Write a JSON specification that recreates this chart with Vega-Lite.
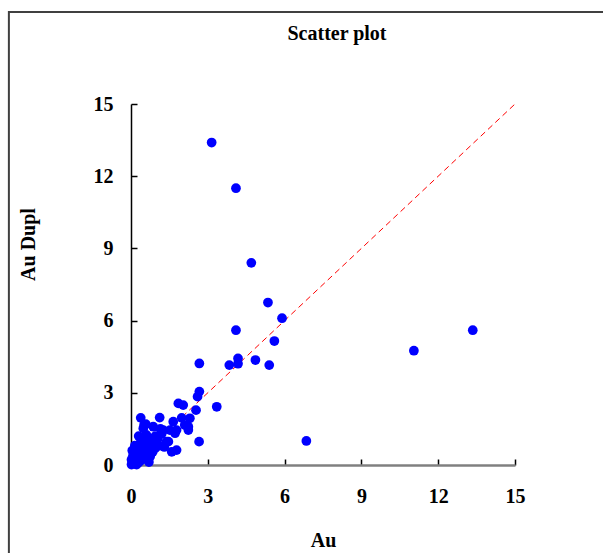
{
  "$schema": "https://vega.github.io/schema/vega-lite/v6.json",
  "width": 384,
  "height": 361,
  "autosize": {"type": "none"},
  "padding": {"left": 131, "top": 104, "right": 88, "bottom": 88},
  "background": "white",
  "title": {
    "text": "Scatter plot",
    "font": "Liberation Serif",
    "fontSize": 20,
    "fontWeight": "bold",
    "color": "black",
    "anchor": "middle",
    "frame": "group",
    "dx": 14,
    "offset": -33
  },
  "config": {
    "view": {"stroke": null},
    "axis": {
      "grid": false,
      "labelFont": "Liberation Serif",
      "labelFontSize": 20,
      "labelFontWeight": "bold",
      "labelColor": "black",
      "labelFlush": false,
      "titleFont": "Liberation Serif",
      "titleFontSize": 20,
      "titleFontWeight": "bold",
      "titleColor": "black",
      "tickColor": "black",
      "tickWidth": 1.5
    }
  },
  "datasets": {
    "pts": [
      {"Au": 3.15, "AuDupl": 13.4}, {"Au": 4.1, "AuDupl": 11.5}, {"Au": 4.7, "AuDupl": 8.4},
      {"Au": 5.35, "AuDupl": 6.75}, {"Au": 5.9, "AuDupl": 6.1}, {"Au": 4.1, "AuDupl": 5.6},
      {"Au": 5.6, "AuDupl": 5.15}, {"Au": 2.67, "AuDupl": 4.22}, {"Au": 3.84, "AuDupl": 4.15},
      {"Au": 4.18, "AuDupl": 4.43}, {"Au": 4.18, "AuDupl": 4.21}, {"Au": 4.86, "AuDupl": 4.36},
      {"Au": 5.4, "AuDupl": 4.15}, {"Au": 2.67, "AuDupl": 3.05}, {"Au": 2.6, "AuDupl": 2.84},
      {"Au": 11.05, "AuDupl": 4.75}, {"Au": 13.35, "AuDupl": 5.6}, {"Au": 6.85, "AuDupl": 1.0},
      {"Au": 3.35, "AuDupl": 2.42}, {"Au": 2.54, "AuDupl": 2.28}, {"Au": 1.85, "AuDupl": 2.56},
      {"Au": 2.04, "AuDupl": 2.49}, {"Au": 2.66, "AuDupl": 0.97},
      {"Au": 0.38, "AuDupl": 1.96}, {"Au": 1.12, "AuDupl": 1.97}, {"Au": 1.98, "AuDupl": 1.96},
      {"Au": 2.3, "AuDupl": 1.94}, {"Au": 2.24, "AuDupl": 1.45}, {"Au": 2.24, "AuDupl": 1.59},
      {"Au": 1.65, "AuDupl": 1.8}, {"Au": 1.78, "AuDupl": 1.45}, {"Au": 1.52, "AuDupl": 1.45},
      {"Au": 1.46, "AuDupl": 0.97}, {"Au": 1.78, "AuDupl": 0.62}, {"Au": 1.59, "AuDupl": 0.55},
      {"Au": 0.58, "AuDupl": 1.7}, {"Au": 0.87, "AuDupl": 1.59}, {"Au": 1.26, "AuDupl": 1.45},
      {"Au": 0.7, "AuDupl": 0.12}, {"Au": 0.48, "AuDupl": 1.52}, {"Au": 1.72, "AuDupl": 1.32},
      {"Au": 2.1, "AuDupl": 1.66}, {"Au": 1.0, "AuDupl": 0.9}, {"Au": 1.39, "AuDupl": 0.97},
      {"Au": 0.1, "AuDupl": 0.1}, {"Au": 0.15, "AuDupl": 0.05}, {"Au": 0.05, "AuDupl": 0.2},
      {"Au": 0.2, "AuDupl": 0.15}, {"Au": 0.12, "AuDupl": 0.3}, {"Au": 0.25, "AuDupl": 0.25},
      {"Au": 0.3, "AuDupl": 0.1}, {"Au": 0.08, "AuDupl": 0.4}, {"Au": 0.35, "AuDupl": 0.35},
      {"Au": 0.18, "AuDupl": 0.5}, {"Au": 0.4, "AuDupl": 0.2}, {"Au": 0.3, "AuDupl": 0.55},
      {"Au": 0.45, "AuDupl": 0.45}, {"Au": 0.5, "AuDupl": 0.6}, {"Au": 0.55, "AuDupl": 0.8},
      {"Au": 0.6, "AuDupl": 0.5}, {"Au": 0.4, "AuDupl": 0.7}, {"Au": 0.65, "AuDupl": 0.9},
      {"Au": 0.7, "AuDupl": 0.7}, {"Au": 0.5, "AuDupl": 1.0}, {"Au": 0.45, "AuDupl": 1.1},
      {"Au": 0.75, "AuDupl": 1.05}, {"Au": 0.8, "AuDupl": 0.85}, {"Au": 0.9, "AuDupl": 1.0},
      {"Au": 0.95, "AuDupl": 1.2}, {"Au": 1.05, "AuDupl": 1.1}, {"Au": 1.1, "AuDupl": 0.8},
      {"Au": 0.6, "AuDupl": 1.25}, {"Au": 0.35, "AuDupl": 0.9}, {"Au": 0.25, "AuDupl": 0.75},
      {"Au": 0.85, "AuDupl": 0.55}, {"Au": 1.2, "AuDupl": 1.3}, {"Au": 0.02, "AuDupl": 0.02},
      {"Au": 0.05, "AuDupl": 0.6}, {"Au": 0.22, "AuDupl": 0.02}, {"Au": 0.55, "AuDupl": 0.3},
      {"Au": 0.75, "AuDupl": 0.35}, {"Au": 0.3, "AuDupl": 1.2}, {"Au": 1.3, "AuDupl": 0.75},
      {"Au": 1.15, "AuDupl": 1.5}, {"Au": 0.95, "AuDupl": 0.7}, {"Au": 0.12, "AuDupl": 0.55},
      {"Au": 0.02, "AuDupl": 0.22}, {"Au": 0.51, "AuDupl": 1.66}, {"Au": 0.15, "AuDupl": 0.8}
    ],
    "diag": [
      {"x": 0, "y": 0, "x2": 15, "y2": 15}
    ]
  },
  "layer": [
    {
      "data": {"values": [{}]},
      "mark": {"type": "rect", "fill": null, "stroke": "#404040", "strokeWidth": 2, "clip": false},
      "encoding": {
        "x": {"datum": -4.77, "type": "quantitative", "scale": {"domain": [0, 15], "nice": false}},
        "x2": {"datum": 19.5},
        "y": {"datum": 18.82, "type": "quantitative", "scale": {"domain": [0, 15], "nice": false}},
        "y2": {"datum": -4.5}
      }
    },
    {
      "data": {"name": "diag"},
      "mark": {"type": "rule", "color": "#FF0000", "strokeWidth": 1, "strokeDash": [6, 4]},
      "encoding": {
        "x": {"field": "x", "type": "quantitative", "scale": {"domain": [0, 15]}},
        "y": {"field": "y", "type": "quantitative", "scale": {"domain": [0, 15]}},
        "x2": {"field": "x2"},
        "y2": {"field": "y2"}
      }
    },
    {
      "data": {"name": "pts"},
      "mark": {"type": "circle", "color": "#0000FF", "opacity": 1, "size": 95},
      "encoding": {
        "x": {
          "field": "Au", "type": "quantitative", "title": "Au",
          "scale": {"domain": [0, 15], "nice": false, "zero": true},
          "axis": {
            "values": [0, 3, 6, 9, 12, 15],
            "tickSize": -6,
            "labelPadding": 27,
            "titlePadding": 24,
            "domainColor": "#808080",
            "domainWidth": 2.5
          }
        },
        "y": {
          "field": "AuDupl", "type": "quantitative", "title": "Au Dupl",
          "scale": {"domain": [0, 15], "nice": false, "zero": true},
          "axis": {
            "values": [0, 3, 6, 9, 12, 15],
            "tickSize": -6,
            "labelPadding": 24,
            "domainColor": "black",
            "domainWidth": 1.5,
            "titleX": -103,
            "titleY": 140,
            "titleAngle": 270,
            "titleAlign": "center",
            "titleBaseline": "middle"
          }
        }
      }
    }
  ]
}
